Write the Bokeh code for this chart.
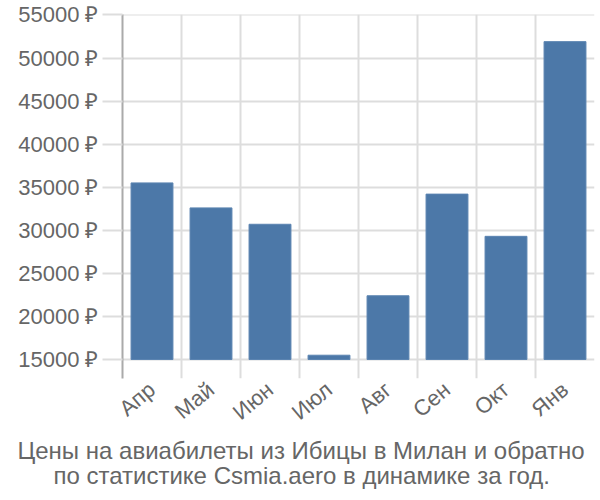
from bokeh.plotting import figure
from bokeh.models import Range1d, FixedTicker, Title
from bokeh.embed import file_html
from bokeh.resources import INLINE

months = ["Апр", "Май", "Июн", "Июл", "Авг", "Сен", "Окт", "Янв"]
prices = [35500, 32600, 30700, 15500, 22400, 34200, 29300, 51900]
y_ticks = [15000, 20000, 25000, 30000, 35000, 40000, 45000, 50000, 55000]
baseline = 15000
caption = ["Цены на авиабилеты из Ибицы в Милан и обратно",
           "по статистике Csmia.aero в динамике за год."]

FONT = "Liberation Sans"
GRAY = "#666666"

x_pos = [i + 0.5 for i in range(len(months))]

p = figure(width=600, height=500, output_backend="svg", toolbar_location=None,
           x_range=Range1d(0, len(months)), y_range=Range1d(12797, 55050),
           min_border_left=122, min_border_right=6, min_border_top=14,
           min_border_bottom=122)
p.outline_line_color = None
p.background_fill_color = "white"

p.vbar(x=x_pos, top=prices, bottom=baseline, width=0.71,
       fill_color="#4c78a8", line_color="#5b84b1", line_width=1)

# y axis
p.yaxis.ticker = FixedTicker(ticks=y_ticks)
p.yaxis.major_label_overrides = {t: f"{t} ₽" for t in y_ticks}
p.yaxis.axis_line_color = "#aaaaaa"
p.yaxis.axis_line_width = 2
p.yaxis.major_tick_line_color = "#dddddd"
p.yaxis.major_tick_line_width = 2
p.yaxis.major_tick_out = 20
p.yaxis.major_tick_in = 0
p.yaxis.minor_tick_line_color = None
p.yaxis.major_label_standoff = 4
p.yaxis.major_label_text_font = FONT
p.yaxis.major_label_text_font_size = "22px"
p.yaxis.major_label_text_color = GRAY

# x axis
p.xaxis.ticker = FixedTicker(ticks=x_pos)
p.xaxis.major_label_overrides = {x: m for x, m in zip(x_pos, months)}
p.xaxis.axis_line_color = None
p.xaxis.major_tick_line_color = None
p.xaxis.minor_tick_line_color = None
p.xaxis.major_label_orientation = 0.7
p.xaxis.major_label_standoff = 2
p.xaxis.major_label_text_font = FONT
p.xaxis.major_label_text_font_size = "22px"
p.xaxis.major_label_text_color = GRAY

# grids
p.ygrid.ticker = FixedTicker(ticks=y_ticks)
p.ygrid.grid_line_color = "#dddddd"
p.ygrid.grid_line_width = 2
p.xgrid.ticker = FixedTicker(ticks=list(range(len(months) + 1)))
p.xgrid.grid_line_color = "#dddddd"
p.xgrid.grid_line_width = 2

# caption lines, shifted left so that they are centred on the 600px canvas
offsets = [-105, -69]
standoffs = [-5, -3]
for line, off, so in zip(caption, offsets, standoffs):
    t = Title(text=line, align="left", text_font=FONT, text_font_size="24px",
              text_color=GRAY, text_font_style="normal", standoff=so, offset=off)
    p.add_layout(t, "below")

open("out.html", "w").write(file_html(p, INLINE))
